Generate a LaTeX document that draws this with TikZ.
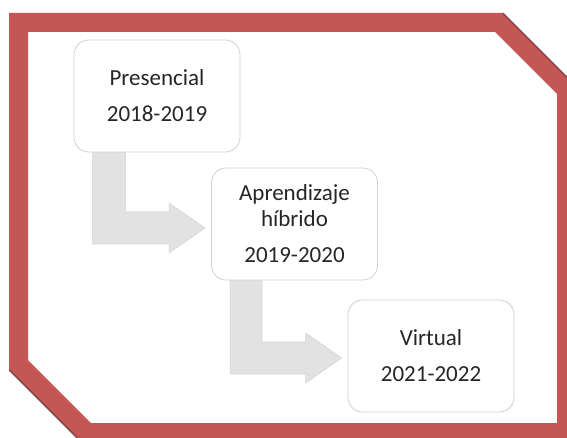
\documentclass[tikz,border=0pt]{standalone}
\usepackage{fontspec}
\setmainfont{Carlito}
\usetikzlibrary{calc,backgrounds}

\definecolor{framered}{RGB}{196,86,84}
\definecolor{boxline}{RGB}{208,208,208}
\definecolor{flowgray}{RGB}{226,226,226}
\definecolor{flowedge}{RGB}{212,212,212}
\definecolor{textgray}{RGB}{38,38,38}

\tikzset{
  stage/.style={draw=boxline, line width=0.6pt, fill=white,
    rounded corners=11pt, minimum width=124.5pt, minimum height=84pt,
    inner sep=0pt, align=center, text=textgray,
    font=\fontsize{17.25pt}{19.5pt}\selectfont},
  flow/.style={fill=flowgray, draw=flowedge, line width=0.4pt, line join=miter},
  frame/.style={fill=framered, even odd rule},
  frameshade/.style={draw=black, opacity=0.35, line width=1.2pt}
}

\begin{document}
\begin{tikzpicture}[x=0.75pt, y=-0.75pt]
  \useasboundingbox (0,0) rectangle (567,438);

  % stages
  \node[stage] (b1) at (157,96)  {Presencial\\[7.5pt]2018-2019};
  \node[stage] (b2) at (294.5,224) {Aprendizaje\\híbrido\\[7.5pt]2019-2020};
  \node[stage] (b3) at (431,356) {Virtual\\[7.5pt]2021-2022};

  \begin{scope}[on background layer]
    \fill[white] (0,0) rectangle (567,438);
    % bent arrows from one stage to the next
    \filldraw[flow] ($(b1.south west)+(19,-10)$) |- ($(b2.west)+(-42,20)$)
      -- ++(0,9) -- ($(b2.west)+(-6,4)$) -- ($(b2.west)+(-42,-21)$)
      -- ++(0,9) -| ($(b1.south west)+(52,-10)$) -- cycle;
    \filldraw[flow] ($(b2.south west)+(19,-10)$) |- ($(b3.west)+(-42,18)$)
      -- ++(0,9) -- ($(b3.west)+(-6,2)$) -- ($(b3.west)+(-42,-23)$)
      -- ++(0,9) -| ($(b2.south west)+(51,-10)$) -- cycle;
  \end{scope}

  % red chamfered frame
  \begin{scope}
    \clip (0,0) rectangle (567,438);
    \fill[frame] (9,13) -- (503,13) -- (576,86) -- (576,442) -- (81,442) -- (9,370) -- cycle
                 (28,32) -- (495,32) -- (557,94) -- (557,423) -- (91,423) -- (28,360) -- cycle;
    \draw[frameshade] (503,13) -- (576,86);
    \draw[frameshade] (9,370) -- (81,442);
  \end{scope}
\end{tikzpicture}
\end{document}
